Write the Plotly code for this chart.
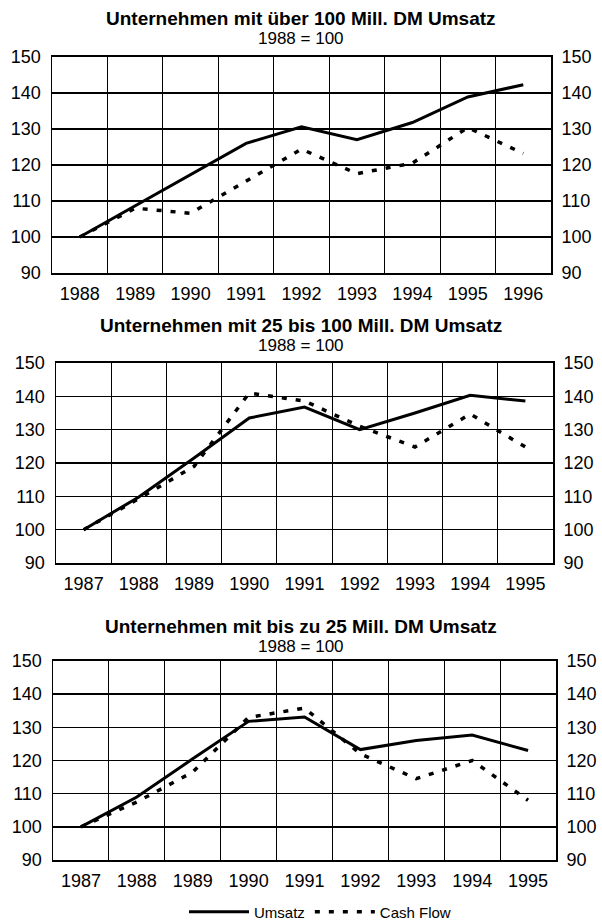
import plotly.graph_objects as go

# ---- data ----
years_1 = ["1988", "1989", "1990", "1991", "1992", "1993", "1994", "1995", "1996"]
umsatz_1 = [100, 108.7, 117.5, 126.0, 130.6, 127.0, 131.8, 138.9, 142.3]
cash_1 = [100, 108.0, 106.6, 115.5, 124.4, 117.6, 120.5, 130.4, 123.2]

years_2 = ["1987", "1988", "1989", "1990", "1991", "1992", "1993", "1994", "1995"]
umsatz_2 = [100, 109.8, 121.5, 133.5, 136.8, 130.0, 135.0, 140.3, 138.6]
cash_2 = [100, 109.3, 119.0, 141.0, 138.6, 131.0, 124.8, 134.7, 124.8]

years_3 = ["1987", "1988", "1989", "1990", "1991", "1992", "1993", "1994", "1995"]
umsatz_3 = [100, 109.0, 120.5, 131.8, 133.1, 123.3, 126.0, 127.7, 123.0]
cash_3 = [100, 107.5, 116.5, 133.0, 135.8, 122.0, 114.5, 120.0, 108.0]

titles = [
    "Unternehmen mit über 100 Mill. DM Umsatz",
    "Unternehmen mit 25 bis 100 Mill. DM Umsatz",
    "Unternehmen mit bis zu 25 Mill. DM Umsatz",
]
subtitle = "1988 = 100"
yticks = [90, 100, 110, 120, 130, 140, 150]

panels = [
    (years_1, umsatz_1, cash_1),
    (years_2, umsatz_2, cash_2),
    (years_3, umsatz_3, cash_3),
]

W, H = 602, 921
# pixel boxes: (left, right, top, bottom)
boxes = [(52, 551, 57, 273), (56, 553, 363, 563), (53, 556, 661, 860)]
title_y = [(18, 38), (326, 346), (626, 646)]

FONT = "Liberation Sans, Arial, Helvetica, sans-serif"
TICK = 18

fig = go.Figure()
layout = dict(
    width=W, height=H,
    margin=dict(l=0, r=0, t=0, b=0, autoexpand=False),
    paper_bgcolor="white", plot_bgcolor="white",
    font=dict(family=FONT, size=TICK, color="black"),
    showlegend=True,
    legend=dict(orientation="h", x=320 / W, xanchor="center", y=1 - 912 / H, yanchor="middle",
                font=dict(family=FONT, size=15),
                itemwidth=60, bgcolor="rgba(0,0,0,0)", tracegroupgap=0),
    annotations=[],
)

for i, (yrs, u, c) in enumerate(panels):
    n = i + 1
    xa = "x" if n == 1 else f"x{n}"
    ya_l = "y" if n == 1 else f"y{2*n-1}"
    ya_r = f"y{2*n}"
    xs = list(range(len(yrs)))
    l, r, t, b = boxes[i]

    fig.add_trace(go.Scatter(x=xs, y=u, mode="lines", name="Umsatz",
                             line=dict(color="black", width=3),
                             xaxis=xa, yaxis=ya_l, showlegend=(i == 0)))
    fig.add_trace(go.Scatter(x=xs, y=c, mode="lines", name="Cash Flow",
                             line=dict(color="black", width=3.5, dash="5px,9px"),
                             xaxis=xa, yaxis=ya_l, showlegend=(i == 0)))
    # invisible trace so the right-hand axis is drawn
    fig.add_trace(go.Scatter(x=xs, y=u, mode="markers", marker=dict(opacity=0),
                             hoverinfo="skip", xaxis=xa, yaxis=ya_r, showlegend=False))

    xkey = "xaxis" if n == 1 else f"xaxis{n}"
    ylkey = "yaxis" if n == 1 else f"yaxis{2*n-1}"
    yrkey = f"yaxis{2*n}"

    layout[xkey] = dict(
        domain=[l / W, r / W], anchor=ya_l, range=[-0.5, len(yrs) - 0.5],
        tickmode="array", tickvals=xs, ticktext=yrs, showgrid=False,
        ticks="outside", ticklen=3, tickcolor="rgba(0,0,0,0)",
        tickfont=dict(size=TICK), zeroline=False,
        showline=True, linecolor="black", linewidth=2, mirror=True,
        minor=dict(tick0=0.5, dtick=1, tickmode="linear", showgrid=True,
                   gridcolor="black", gridwidth=1, ticks=""),
        fixedrange=True,
    )
    layout[ylkey] = dict(
        domain=[1 - b / H, 1 - t / H], anchor=xa, range=[90, 150],
        tickmode="array", tickvals=yticks, showgrid=True, gridcolor="black", gridwidth=1.5,
        ticks="outside", ticklen=6, tickcolor="rgba(0,0,0,0)",
        tickfont=dict(size=TICK), zeroline=False,
        showline=True, linecolor="black", linewidth=1.5, mirror=True,
        fixedrange=True,
    )
    layout[yrkey] = dict(
        overlaying=ya_l, side="right", anchor=xa, range=[90, 150],
        tickmode="array", tickvals=yticks, showgrid=False,
        ticks="outside", ticklen=6, tickcolor="rgba(0,0,0,0)",
        tickfont=dict(size=TICK), zeroline=False, showline=False,
        fixedrange=True,
    )
    cx = 301 / W
    layout["annotations"].append(dict(
        text=f"<b>{titles[i]}</b>", x=cx, y=1 - title_y[i][0] / H, xref="paper", yref="paper",
        xanchor="center", yanchor="middle", showarrow=False, font=dict(size=19)))
    layout["annotations"].append(dict(
        text=subtitle, x=cx, y=1 - title_y[i][1] / H, xref="paper", yref="paper",
        xanchor="center", yanchor="middle", showarrow=False, font=dict(size=17)))

fig.update_layout(**layout)
fig.write_html(
    "out.html",
    config={"staticPlot": True},
    post_script="document.body.style.margin='0';document.body.style.overflow='hidden';",
)
